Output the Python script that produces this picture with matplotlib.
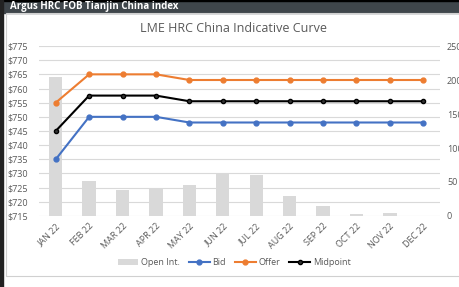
import numpy as np
import matplotlib.pyplot as plt
from matplotlib.patches import Rectangle

months = ['JAN 22', 'FEB 22', 'MAR 22', 'APR 22', 'MAY 22', 'JUN 22',
          'JUL 22', 'AUG 22', 'SEP 22', 'OCT 22', 'NOV 22', 'DEC 22']
open_int = [204, 52, 38, 41, 45, 63, 61, 29, 15, 3, 5, 0]
bid = [735, 750, 750, 750, 748, 748, 748, 748, 748, 748, 748, 748]
offer = [755, 765, 765, 765, 763, 763, 763, 763, 763, 763, 763, 763]
midpoint = [745, 757.5, 757.5, 757.5, 755.5, 755.5, 755.5, 755.5, 755.5, 755.5, 755.5, 755.5]

plt.rcParams['font.family'] = ['Open Sans', 'DejaVu Sans']
txt = '#595959'

fig = plt.figure(figsize=(4.59, 2.87), dpi=100)

# header bar and frame
fig.patches.append(Rectangle((0, 0.955), 1, 0.045, transform=fig.transFigure,
                             color='#3f464b', zorder=0))
fig.patches.append(Rectangle((0, 0.997), 1, 0.003, transform=fig.transFigure,
                             color='black', zorder=1))
fig.patches.append(Rectangle((0, 0), 0.006, 1, transform=fig.transFigure,
                             color='#222222', zorder=1))
fig.patches.append(Rectangle((0.013, 0.038), 0.99, 0.917, transform=fig.transFigure,
                             fill=False, ec='#d0d0d0', lw=0.8, zorder=1))
fig.text(0.022, 0.977, 'Argus HRC FOB Tianjin China index', color='white',
         fontsize=7, fontweight='bold', va='center', ha='left')
fig.text(0.508, 0.9, 'LME HRC China Indicative Curve', color=txt,
         fontsize=9, va='center', ha='center')

ax2 = fig.add_axes([0.085, 0.2474, 0.8736, 0.5923])
ax = ax2.twinx()
ax2.yaxis.tick_right()
ax.yaxis.tick_left()

x = np.arange(len(months))
ax2.bar(x, open_int, width=0.4, color='#d9d9d9', zorder=1, label='Open Int.')
ax2.set_ylim(0, 250)
ax2.set_yticks(range(0, 251, 50))

ax.plot(x, bid, color='#4472c4', marker='o', ms=3.5, lw=1.5, label='Bid')
ax.plot(x, offer, color='#ed7d31', marker='o', ms=3.5, lw=1.5, label='Offer')
ax.plot(x, midpoint, color='black', marker='o', ms=3, lw=1.5, mfc='#333333', label='Midpoint')
ax.set_ylim(715, 775)
ax.set_yticks(range(715, 776, 5))
ax.set_yticklabels(['$%d' % v for v in range(715, 776, 5)])
ax.set_xlim(-0.5, 11.5)

for a in (ax, ax2):
    for s in a.spines.values():
        s.set_visible(False)
    a.tick_params(length=0, labelsize=6.5, colors=txt)
ax2.tick_params(axis='y', pad=5)
ax.tick_params(axis='y', pad=8)

# gridlines drawn on the bar axis so they sit behind the bars
for v in range(715, 776, 5):
    ax2.axhline((v - 715) / 60 * 250, color='#d9d9d9', lw=0.8, zorder=0)

ax2.set_xticks(x)
ax2.set_xticklabels(months, rotation=45, ha='right', rotation_mode='anchor')
ax2.tick_params(axis='x', pad=4)

h1, l1 = ax2.get_legend_handles_labels()
h2, l2 = ax.get_legend_handles_labels()
fig.legend(h1 + h2, l1 + l2, loc='center', bbox_to_anchor=(0.51, 0.085), ncol=4,
           frameon=False, fontsize=6.5, labelcolor=txt, handlelength=2.3,
           handletextpad=0.3, columnspacing=1.0)

fig.savefig('out.png', dpi=100)
